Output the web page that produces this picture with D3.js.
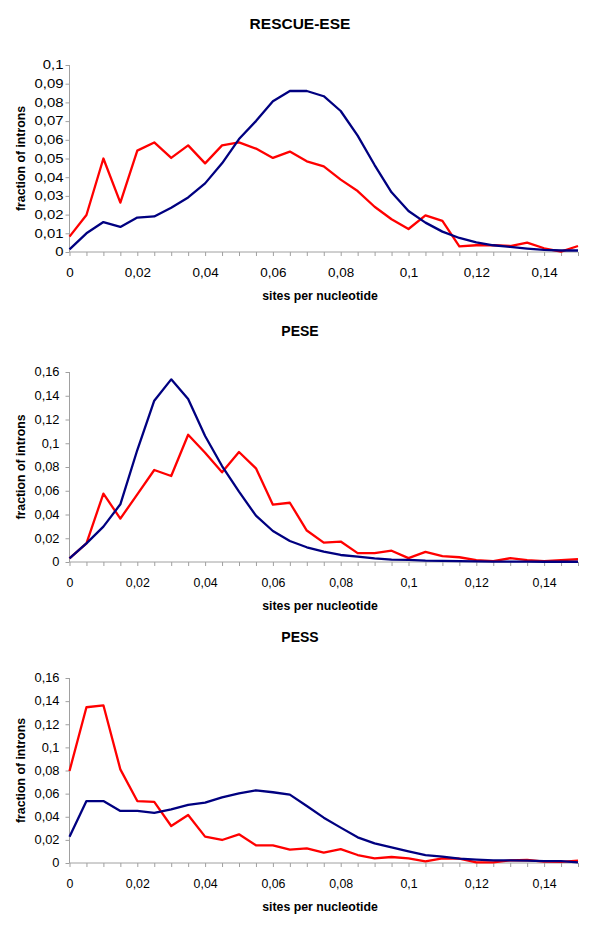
<!DOCTYPE html>
<html>
<head>
<meta charset="utf-8">
<script src="https://cdn.jsdelivr.net/npm/d3@7"></script>
<style>
  html, body { margin: 0; padding: 0; background: #fff; }
  svg { display: block; }
  text { font-family: "Liberation Sans", Arial, sans-serif; fill: #000; }
</style>
</head>
<body>
<svg id="chart" width="600" height="937"></svg>
<script>
// ---- data ----
const sitesPerNucleotide = [0, 0.005, 0.01, 0.015, 0.02, 0.025, 0.03, 0.035, 0.04, 0.045, 0.05,
  0.055, 0.06, 0.065, 0.07, 0.075, 0.08, 0.085, 0.09, 0.095, 0.1,
  0.105, 0.11, 0.115, 0.12, 0.125, 0.13, 0.135, 0.14, 0.145, 0.15];

const xTickValues = [0, 0.02, 0.04, 0.06, 0.08, 0.1, 0.12, 0.14];
const xTickLabels = ["0", "0,02", "0,04", "0,06", "0,08", "0,1", "0,12", "0,14"];

const panelTitles = ["RESCUE-ESE", "PESE", "PESS"];

const rescueYTickValues = [0, 0.01, 0.02, 0.03, 0.04, 0.05, 0.06, 0.07, 0.08, 0.09, 0.1];
const rescueYTickLabels = ["0", "0,01", "0,02", "0,03", "0,04", "0,05", "0,06", "0,07", "0,08", "0,09", "0,1"];
const peYTickValues = [0, 0.02, 0.04, 0.06, 0.08, 0.1, 0.12, 0.14, 0.16];
const peYTickLabels = ["0", "0,02", "0,04", "0,06", "0,08", "0,1", "0,12", "0,14", "0,16"];

const rescueRed = [0.0082, 0.0198, 0.050, 0.0264, 0.0542, 0.0586, 0.0503, 0.057, 0.0474, 0.057, 0.0586,
  0.0553, 0.0503, 0.0537, 0.0485, 0.0458, 0.0387, 0.0326, 0.0242, 0.0175, 0.0123,
  0.0196, 0.0166, 0.0030, 0.0036, 0.0037, 0.0032, 0.0050, 0.0020, 0.0002, 0.0032];
const rescueBlue = [0.0014, 0.010, 0.016, 0.0134, 0.0184, 0.019, 0.0237, 0.0292, 0.0367, 0.0474, 0.0604,
  0.070, 0.0806, 0.0861, 0.0861, 0.0833, 0.0754, 0.0622, 0.0465, 0.0319, 0.0219,
  0.0157, 0.0109, 0.0075, 0.0052, 0.0036, 0.0027, 0.0018, 0.0011, 0.0008, 0.0008];

const peseRed = [0.003, 0.0157, 0.0576, 0.0365, 0.057, 0.0775, 0.0724, 0.1072, 0.092, 0.0755, 0.0926,
  0.0789, 0.0483, 0.0499, 0.0265, 0.0163, 0.0172, 0.0075, 0.0075, 0.0095, 0.0033,
  0.0085, 0.005, 0.004, 0.0015, 0.0008, 0.0032, 0.0015, 0.0008, 0.0015, 0.0023];
const peseBlue = [0.0031, 0.0157, 0.0298, 0.0486, 0.0943, 0.1358, 0.1538, 0.1372, 0.1061, 0.0808, 0.0592,
  0.039, 0.0261, 0.0177, 0.0124, 0.0087, 0.0059, 0.0045, 0.003, 0.002, 0.0018,
  0.0012, 0.001, 0.0008, 0.0005, 0.0004, 0.0003, 0.0003, 0.0002, 0.0002, 0.0002];

const pessRed = [0.0796, 0.1347, 0.1364, 0.081, 0.0536, 0.0528, 0.032, 0.0415, 0.0228, 0.0199, 0.0248,
  0.0153, 0.0153, 0.0115, 0.0127, 0.0089, 0.012, 0.0069, 0.004, 0.0052, 0.004,
  0.0014, 0.004, 0.0037, 0.0006, 0.0006, 0.0023, 0.0026, 0.0012, 0.001, 0.002];
const pessBlue = [0.0228, 0.0536, 0.0536, 0.045, 0.045, 0.0433, 0.0464, 0.0502, 0.0522, 0.0568, 0.0603,
  0.0629, 0.0612, 0.0591, 0.0493, 0.0392, 0.0306, 0.0222, 0.017, 0.0136, 0.0101,
  0.0069, 0.0055, 0.0037, 0.0029, 0.0023, 0.0023, 0.002, 0.0017, 0.0017, 0.0006];

const seriesColors = ["#ff0000", "#000080"];

// ---- drawing ----
const svg = d3.select("#chart");
const x = d3.scaleLinear().domain([0, 0.15]).range([69.5, 578]);

const panels = [
  { title: panelTitles[0], titleSize: 15.5, yMax: 0.1, yTop: 65, yBottom: 252, tv: rescueYTickValues, tl: rescueYTickLabels,
    yStretch: 1.24, yPad: 2, xStretch: 1.12, red: rescueRed, blue: rescueBlue },
  { title: panelTitles[1], titleSize: 14, yMax: 0.16, yTop: 372, yBottom: 562, tv: peYTickValues, tl: peYTickLabels,
    yStretch: 1.07, yPad: 6, xStretch: 1.03, red: peseRed, blue: peseBlue },
  { title: panelTitles[2], titleSize: 14, yMax: 0.16, yTop: 678, yBottom: 863, tv: peYTickValues, tl: peYTickLabels,
    yStretch: 1.07, yPad: 6, xStretch: 1.03, red: pessRed, blue: pessBlue }
];

const axisColor = "#a0a0a0";

function stretch(sel, f) {
  sel.each(function () {
    const w = this.getComputedTextLength();
    d3.select(this).attr("textLength", w * f).attr("lengthAdjust", "spacingAndGlyphs");
  });
}

panels.forEach(p => {
  const y = d3.scaleLinear().domain([0, p.yMax]).range([p.yBottom, p.yTop]);
  const g = svg.append("g");

  // title
  g.append("text")
    .attr("x", 300).attr("y", p.yTop - 36)
    .attr("text-anchor", "middle")
    .style("font-size", p.titleSize + "px").style("font-weight", "bold")
    .text(p.title);

  // y axis
  const yAxis = d3.axisLeft(y).tickValues(p.tv)
    .tickFormat((d, i) => p.tl[i]).tickSize(4).tickPadding(p.yPad);
  const ya = g.append("g").attr("transform", `translate(${x.range()[0]},0)`).call(yAxis);
  ya.select(".domain").attr("stroke", axisColor).attr("d", `M0,${p.yBottom}V${p.yTop}`);
  ya.selectAll(".tick line").attr("stroke", axisColor);
  ya.selectAll(".tick text").style("font-size", "12px")
    .style("font-family", "'Liberation Sans', Arial, sans-serif").attr("fill", "#000")
    .call(stretch, p.yStretch);

  // x axis: tick marks at every category, labels every 0.02
  const xa = g.append("g").attr("transform", `translate(0,${p.yBottom})`);
  xa.call(d3.axisBottom(x).tickValues(sitesPerNucleotide).tickFormat("").tickSize(4));
  xa.select(".domain").attr("stroke", axisColor).attr("d", `M${x.range()[0]},0H${x.range()[1]}`);
  xa.selectAll(".tick line").attr("stroke", axisColor);
  const xl = g.append("g").attr("transform", `translate(0,${p.yBottom})`);
  xl.call(d3.axisBottom(x).tickValues(xTickValues).tickFormat((d, i) => xTickLabels[i]).tickSize(0).tickPadding(16));
  xl.select(".domain").remove();
  xl.selectAll(".tick text").style("font-size", "12px")
    .style("font-family", "'Liberation Sans', Arial, sans-serif").attr("fill", "#000")
    .call(stretch, p.xStretch);

  // axis titles
  g.append("text")
    .attr("x", 320).attr("y", p.yBottom + 48)
    .attr("text-anchor", "middle")
    .style("font-size", "12.3px").style("font-weight", "bold")
    .text("sites per nucleotide");
  g.append("text")
    .attr("transform", `translate(25,${(p.yTop + p.yBottom) / 2}) rotate(-90)`)
    .attr("text-anchor", "middle")
    .style("font-size", "12.3px").style("font-weight", "bold")
    .text("fraction of introns");

  // lines
  const line = d3.line().x((d, i) => x(sitesPerNucleotide[i])).y(d => y(d));
  [p.red, p.blue].forEach((vals, k) => {
    g.append("path").datum(vals)
      .attr("d", line)
      .attr("fill", "none")
      .attr("stroke", seriesColors[k])
      .attr("stroke-width", 2.3)
      .attr("stroke-linejoin", "round");
  });
});
</script>
</body>
</html>
